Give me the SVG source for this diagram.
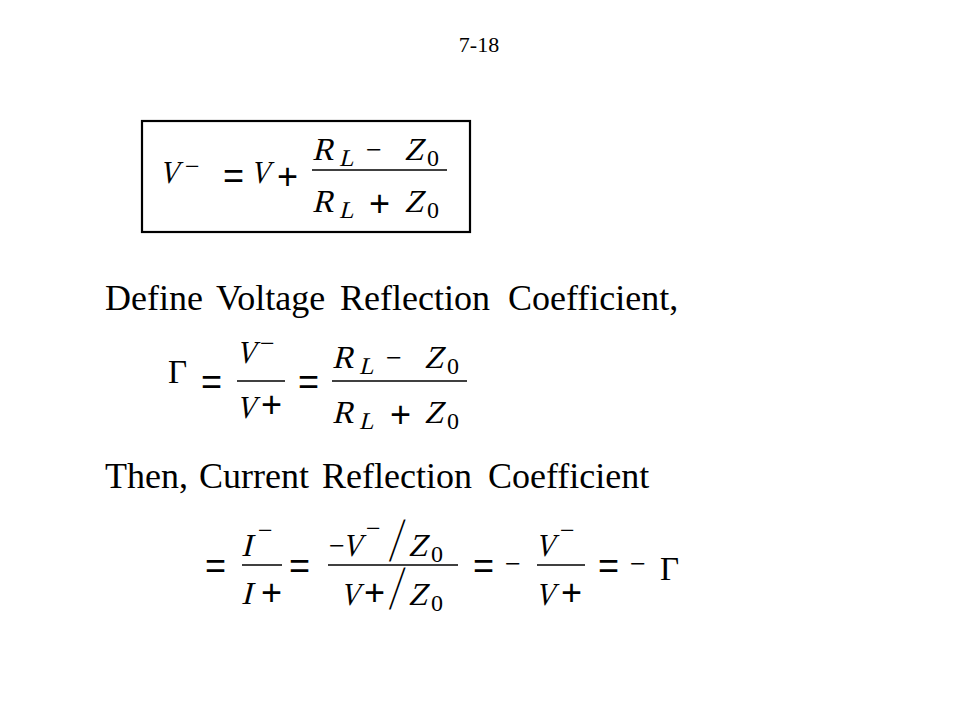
<svg xmlns="http://www.w3.org/2000/svg" width="960" height="720" viewBox="0 0 960 720">
<style>
.t{font-family:"Liberation Serif","Times New Roman",serif;fill:#000}
.it{font-family:"Liberation Serif","Times New Roman",serif;fill:#000;font-size:32px}
.sub{font-family:"Liberation Serif","Times New Roman",serif;fill:#000;font-size:24px}
.op{font-family:"Liberation Sans",Arial,sans-serif;fill:#000;font-size:36px}
.mn{font-family:"Liberation Serif","Times New Roman",serif;fill:#000;font-size:28px}
.sm{font-family:"Liberation Serif","Times New Roman",serif;fill:#000;font-size:26px}
.sl{font-family:"Liberation Serif","Times New Roman",serif;fill:#000;font-size:36px}
.bar{stroke:#000;stroke-width:1.6}
</style>
<rect width="960" height="720" fill="#fff"/>
<text class="t" x="479" y="52" font-size="22" text-anchor="middle">7-18</text>

<g id="eq1">
<rect x="142" y="121" width="328" height="111" fill="none" stroke="#000" stroke-width="2.2"/>
<text class="it" transform="translate(159,183) skewX(-14) scale(0.85,1)">V</text>
<text class="sm" x="185" y="174.5">−</text>
<text class="op" x="223" y="188.4">=</text>
<text class="it" transform="translate(250,183) skewX(-14) scale(0.85,1)">V</text>
<text class="op" x="277" y="188.6">+</text>
<line class="bar" x1="312" y1="170" x2="447" y2="170"/>
<text class="it" transform="translate(312,160) skewX(-14)">R</text>
<text class="sub" transform="translate(339,166) skewX(-14)">L</text>
<text class="mn" x="366" y="158.5">−</text>
<text class="it" transform="translate(404,160) skewX(-14)">Z</text>
<text class="sub" x="427" y="166">0</text>
<text class="it" transform="translate(312,212) skewX(-14)">R</text>
<text class="sub" transform="translate(339,218) skewX(-14)">L</text>
<text class="op" x="369" y="215.6">+</text>
<text class="it" transform="translate(404,212) skewX(-14)">Z</text>
<text class="sub" x="427" y="218">0</text>
</g>

<text class="t" y="310" font-size="36"><tspan x="105">Define</tspan><tspan x="216">Voltage</tspan><tspan x="340">Reflection</tspan><tspan x="508">Coefficient,</tspan></text>

<g id="eq2">
<text class="t" x="168" y="383" font-size="33">Γ</text>
<text class="op" x="201" y="394.4">=</text>
<line class="bar" x1="237" y1="381" x2="285" y2="381"/>
<text class="it" transform="translate(236,363) skewX(-14) scale(0.85,1)">V</text>
<text class="sm" x="260" y="351.5">−</text>
<text class="it" transform="translate(236,418) skewX(-14) scale(0.85,1)">V</text>
<text class="op" x="261" y="416.6">+</text>
<text class="op" x="298" y="394.4">=</text>
<line class="bar" x1="332" y1="381" x2="467" y2="381"/>
<text class="it" transform="translate(332,368) skewX(-14)">R</text>
<text class="sub" transform="translate(359,374) skewX(-14)">L</text>
<text class="mn" x="386" y="366.5">−</text>
<text class="it" transform="translate(424,368) skewX(-14)">Z</text>
<text class="sub" x="447" y="374">0</text>
<text class="it" transform="translate(332,423) skewX(-14)">R</text>
<text class="sub" transform="translate(359,429) skewX(-14)">L</text>
<text class="op" x="390" y="426.6">+</text>
<text class="it" transform="translate(424,423) skewX(-14)">Z</text>
<text class="sub" x="447" y="429">0</text>
</g>

<text class="t" y="488" font-size="36"><tspan x="105">Then,</tspan><tspan x="199">Current</tspan><tspan x="322">Reflection</tspan><tspan x="488">Coefficient</tspan></text>

<g id="eq3">
<text class="op" x="205" y="578.4">=</text>
<line class="bar" x1="242" y1="565" x2="282" y2="565"/>
<text class="it" transform="translate(241,556) skewX(-14)">I</text>
<text class="sm" x="258" y="538.5">−</text>
<text class="it" transform="translate(241,604) skewX(-14)">I</text>
<text class="op" x="261" y="604.6">+</text>
<text class="op" x="289" y="578.4">=</text>
<line class="bar" x1="328" y1="565" x2="458" y2="565"/>
<text class="mn" x="329" y="555">−</text>
<text class="it" transform="translate(342,556) skewX(-14) scale(0.85,1)">V</text>
<text class="sm" x="366" y="536.5">−</text>
<text class="sl" transform="translate(389,561) skewX(-9) scale(1,1.75)">/</text>
<text class="it" transform="translate(408,556) skewX(-14)">Z</text>
<text class="sub" x="431" y="562">0</text>
<text class="it" transform="translate(340,605) skewX(-14) scale(0.85,1)">V</text>
<text class="op" x="364" y="604.6">+</text>
<text class="sl" transform="translate(389,609) skewX(-9) scale(1,1.75)">/</text>
<text class="it" transform="translate(408,605) skewX(-14)">Z</text>
<text class="sub" x="431" y="611">0</text>
<text class="op" x="473" y="578.4">=</text>
<text class="mn" x="505" y="573">−</text>
<line class="bar" x1="537" y1="565" x2="585" y2="565"/>
<text class="it" transform="translate(535,556) skewX(-14) scale(0.85,1)">V</text>
<text class="sm" x="560" y="538.5">−</text>
<text class="it" transform="translate(535,605) skewX(-14) scale(0.85,1)">V</text>
<text class="op" x="561" y="604.6">+</text>
<text class="op" x="598" y="578.4">=</text>
<text class="mn" x="630" y="573">−</text>
<text class="t" x="660" y="580" font-size="33">Γ</text>
</g>
</svg>
